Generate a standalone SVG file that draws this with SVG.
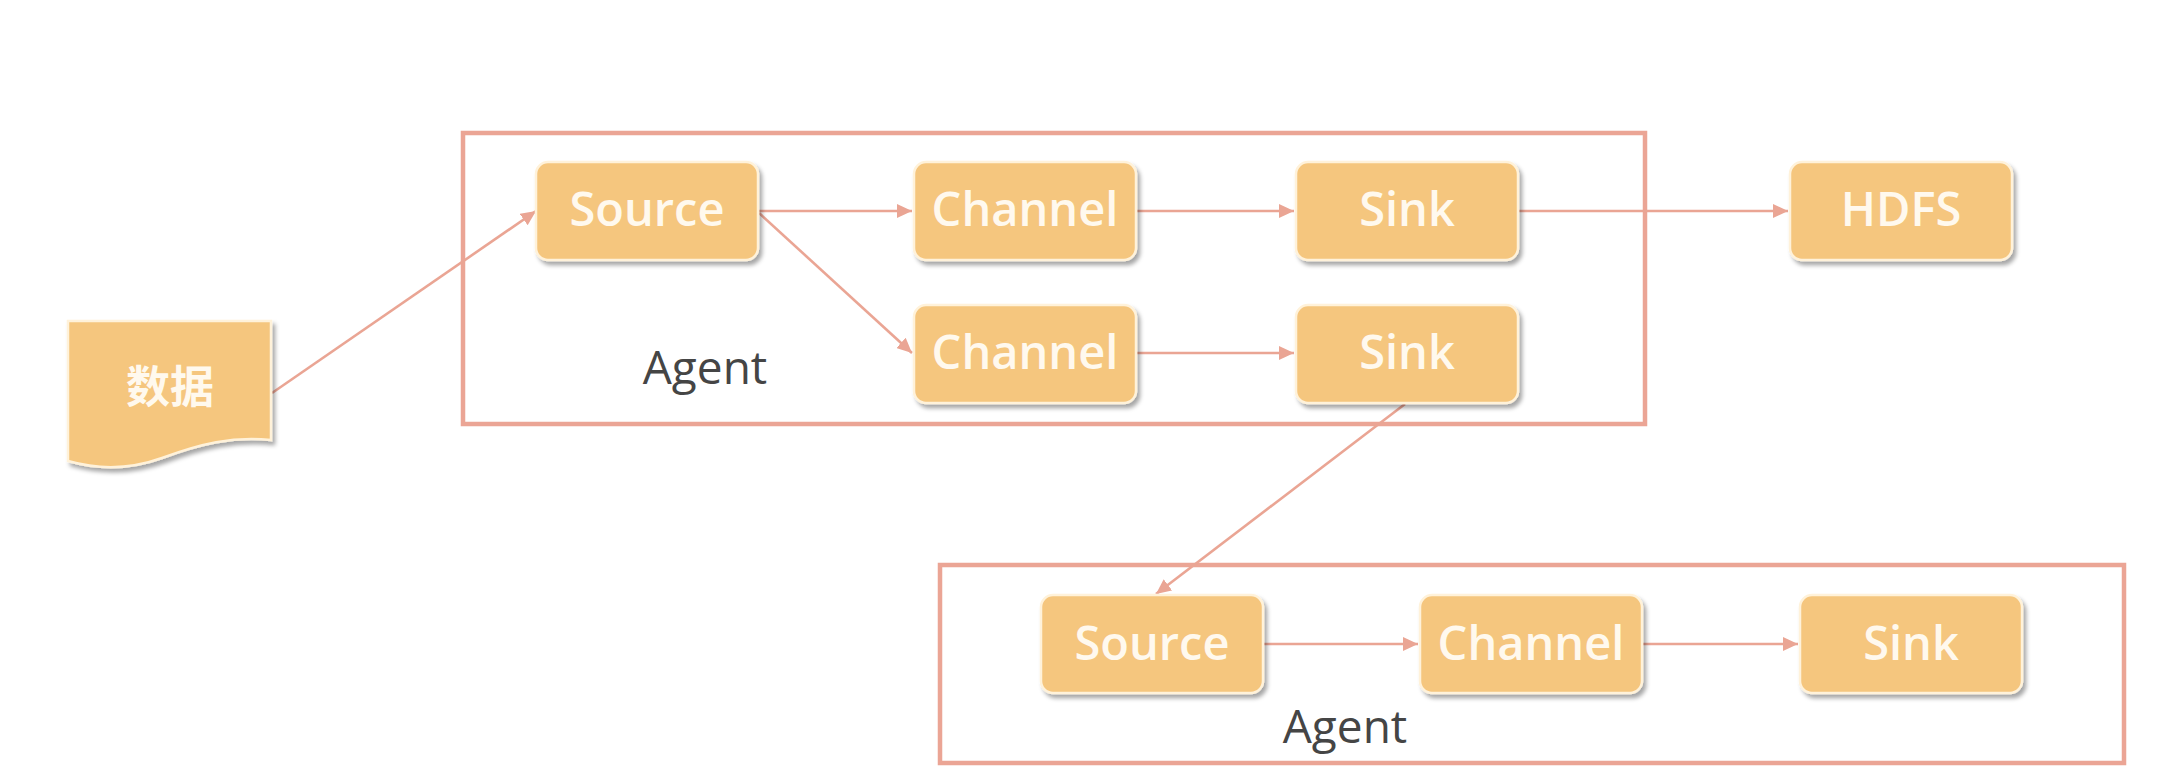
<svg xmlns="http://www.w3.org/2000/svg" width="2168" height="784" viewBox="0 0 2168 784">
<style>
.agent{fill:none;stroke:#EBA595;stroke-width:4.5}
.node{fill:#F5C67E;stroke:#FFF2DA;stroke-width:2.5;filter:url(#sh)}
.lbl{font-family:"Open Sans","Noto Sans",sans-serif;font-weight:600;font-size:47px;fill:#FFF9EE;text-anchor:middle}
.cjk{font-family:"Noto Sans CJK SC",sans-serif;font-weight:700;font-size:44px;fill:#FFF9EE;text-anchor:middle}
.agt{font-family:"Open Sans","Noto Sans",sans-serif;font-size:46px;fill:#454545;text-anchor:middle}
.con line{stroke:#EAA594;stroke-width:2.6;fill:none;marker-end:url(#ah)}
</style>
<defs>
<filter id="sh" x="-10%" y="-10%" width="125%" height="135%">
<feDropShadow dx="3" dy="4" stdDeviation="2.2" flood-color="#000" flood-opacity="0.35"/>
</filter>
<marker id="ah" markerUnits="userSpaceOnUse" markerWidth="16" markerHeight="14" refX="15" refY="7" orient="auto">
<path d="M0,0 L15,7 L0,14 z" fill="#EAA594"/>
</marker>
</defs>
<rect width="2168" height="784" fill="#FFFFFF"/>
<g id="agent1">
<rect class="agent" x="463" y="133" width="1182" height="291"/>
<text class="agt" x="705" y="384">Agent</text>
</g>
<g id="agent2">
<rect class="agent" x="940" y="565" width="1184" height="198"/>
<text class="agt" x="1345" y="743">Agent</text>
</g>
<g class="con" id="connectors">
<line x1="272" y1="393" x2="536" y2="211"/>
<line x1="759" y1="211" x2="912" y2="211"/>
<line x1="759" y1="213" x2="912" y2="353"/>
<line x1="1137" y1="211" x2="1294" y2="211"/>
<line x1="1519" y1="211" x2="1788" y2="211"/>
<line x1="1137" y1="353" x2="1294" y2="353"/>
<line x1="1405" y1="404" x2="1156" y2="594"/>
<line x1="1264" y1="644" x2="1418" y2="644"/>
<line x1="1643" y1="644" x2="1798" y2="644"/>
</g>
<g id="data">
<path class="node" d="M68,321 H271 V440 C232,436 200,444 162,458 C126,471 96,469 68,461 Z"/>
<text class="cjk" x="170" y="403">数据</text>
</g>
<g id="source1">
<rect class="node" x="536" y="162" width="222" height="98" rx="12"/>
<text class="lbl" x="647" y="226">Source</text>
</g>
<g id="channel1">
<rect class="node" x="914" y="162" width="222" height="98" rx="12"/>
<text class="lbl" x="1025" y="226">Channel</text>
</g>
<g id="sink1">
<rect class="node" x="1296" y="162" width="222" height="98" rx="12"/>
<text class="lbl" x="1407" y="226">Sink</text>
</g>
<g id="hdfs">
<rect class="node" x="1790" y="162" width="222" height="98" rx="12"/>
<text class="lbl" x="1901" y="226">HDFS</text>
</g>
<g id="channel2">
<rect class="node" x="914" y="305" width="222" height="98" rx="12"/>
<text class="lbl" x="1025" y="369">Channel</text>
</g>
<g id="sink2">
<rect class="node" x="1296" y="305" width="222" height="98" rx="12"/>
<text class="lbl" x="1407" y="369">Sink</text>
</g>
<g id="source2">
<rect class="node" x="1041" y="595" width="222" height="98" rx="12"/>
<text class="lbl" x="1152" y="660">Source</text>
</g>
<g id="channel3">
<rect class="node" x="1420" y="595" width="222" height="98" rx="12"/>
<text class="lbl" x="1531" y="660">Channel</text>
</g>
<g id="sink3">
<rect class="node" x="1800" y="595" width="222" height="98" rx="12"/>
<text class="lbl" x="1911" y="660">Sink</text>
</g>
</svg>
